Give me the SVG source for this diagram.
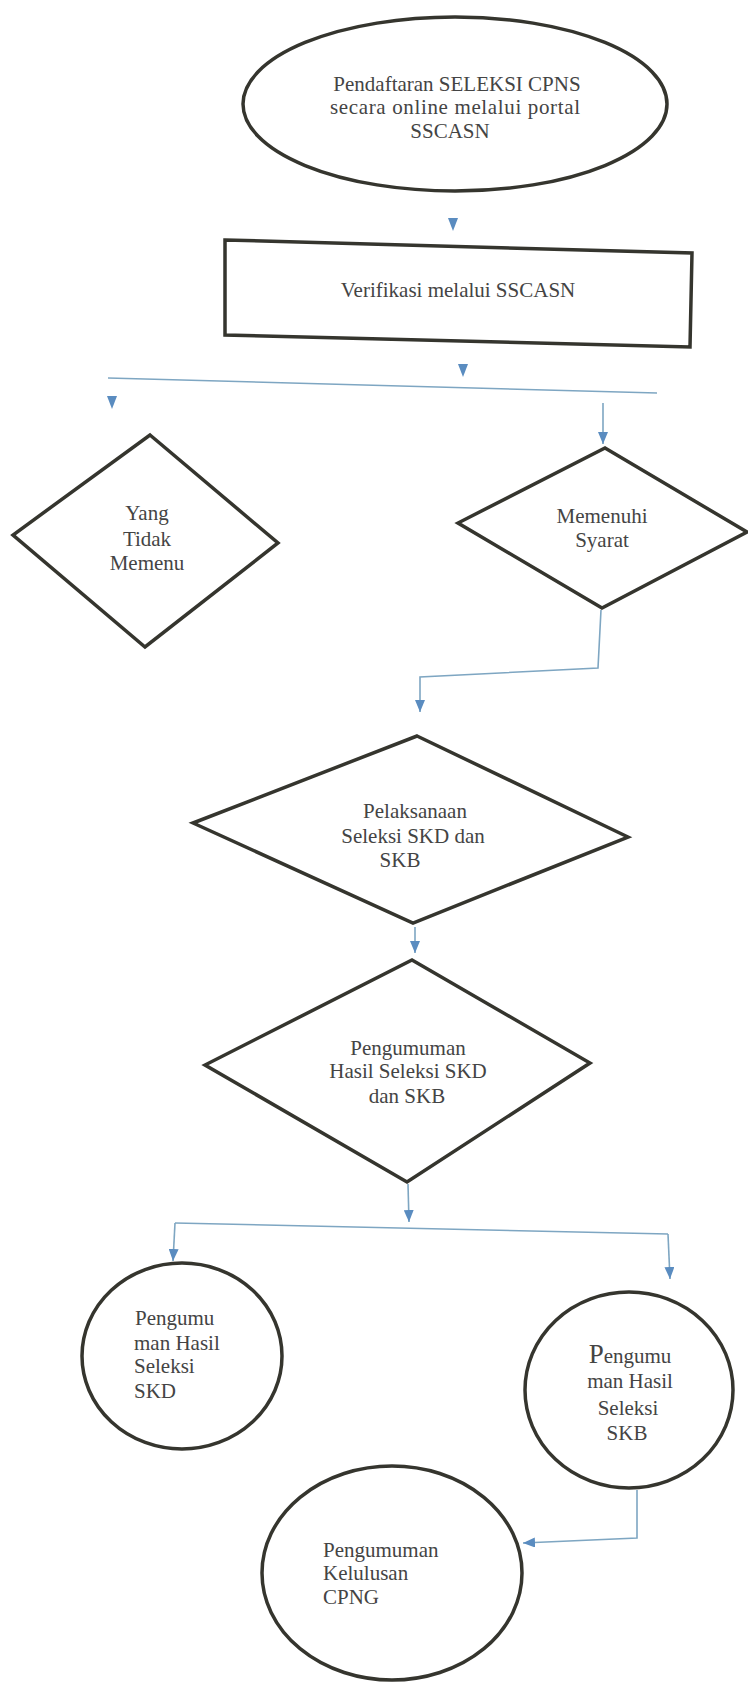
<svg xmlns="http://www.w3.org/2000/svg" xmlns:xlink="http://www.w3.org/1999/xlink" width="748" height="1683" viewBox="0 0 748 1683">
<style>
.shape{fill:#ffffff;stroke:#35352e;stroke-width:3.5;stroke-linejoin:miter}
.t{font-family:"Liberation Serif","Times New Roman",serif;font-size:21px;fill:#444444}
.c{text-anchor:middle}
.conn{fill:none;stroke:#7ea6c2;stroke-width:1.6}
.head{fill:#5a8cc0}
</style>
<defs>
<marker id="arr" viewBox="0 0 12 10" markerWidth="12" markerHeight="10" refX="12" refY="5" orient="auto" markerUnits="userSpaceOnUse">
<path d="M0,0 L12,5 L0,10 z" class="head"/>
</marker>
<path id="tri" d="M-5,0 L5,0 L0,13 z" class="head"/>
</defs>
<rect width="748" height="1683" fill="#ffffff"/>

<g id="connectors">
<use xlink:href="#tri" x="453" y="218"/>
<use xlink:href="#tri" x="463" y="364"/>
<line class="conn" x1="108" y1="378" x2="657" y2="393"/>
<use xlink:href="#tri" x="112" y="396"/>
<line class="conn" x1="603" y1="403" x2="603" y2="444" marker-end="url(#arr)"/>
<polyline class="conn" points="601,610 598,668 420,677 420,712" marker-end="url(#arr)"/>
<line class="conn" x1="415" y1="927" x2="415" y2="953" marker-end="url(#arr)"/>
<line class="conn" x1="408" y1="1184" x2="409" y2="1222" marker-end="url(#arr)"/>
<polyline class="conn" points="175,1223 668,1234"/>
<line class="conn" x1="175" y1="1223" x2="173" y2="1261" marker-end="url(#arr)"/>
<line class="conn" x1="668" y1="1234" x2="670" y2="1279" marker-end="url(#arr)"/>
<polyline class="conn" points="637,1490 637,1538 523,1543" marker-end="url(#arr)"/>
</g>

<g id="n1">
<ellipse class="shape" cx="455" cy="104" rx="212" ry="87"/>
<text class="t c" x="457" y="91">Pendaftaran SELEKSI  CPNS</text>
<text class="t c" x="455" y="114" textLength="250">secara online melalui portal</text>
<text class="t c" x="450" y="138">SSCASN</text>
</g>

<g id="n2">
<polygon class="shape" points="225,240 692,253 690,347 225,335"/>
<text class="t c" x="458" y="297">Verifikasi melalui SSCASN</text>
</g>

<g id="n3">
<polygon class="shape" points="150,435 278,543 145,647 13,535"/>
<text class="t c" x="147" y="520">Yang</text>
<text class="t c" x="147" y="546">Tidak</text>
<text class="t c" x="147" y="570">Memenu</text>
</g>

<g id="n4">
<polygon class="shape" points="605,448 747,532 602,608 458,523"/>
<text class="t c" x="602" y="523">Memenuhi</text>
<text class="t c" x="602" y="547">Syarat</text>
</g>

<g id="n5">
<polygon class="shape" points="417,736 628,837 413,923 193,823"/>
<text class="t c" x="415" y="818">Pelaksanaan</text>
<text class="t c" x="413" y="843">Seleksi SKD dan</text>
<text class="t c" x="400" y="867">SKB</text>
</g>

<g id="n6">
<polygon class="shape" points="412,960 590,1063 407,1182 205,1065"/>
<text class="t c" x="408" y="1055">Pengumuman</text>
<text class="t c" x="408" y="1078">Hasil Seleksi SKD</text>
<text class="t c" x="407" y="1103">dan SKB</text>
</g>

<g id="n7">
<ellipse class="shape" cx="182" cy="1356" rx="100" ry="93"/>
<text class="t" x="135" y="1325">Pengumu</text>
<text class="t" x="134" y="1350">man Hasil</text>
<text class="t" x="134" y="1373">Seleksi</text>
<text class="t" x="134" y="1398">SKD</text>
</g>

<g id="n8">
<ellipse class="shape" cx="629" cy="1390" rx="104" ry="98"/>
<text class="t c" x="630" y="1363"><tspan font-size="27">P</tspan>engumu</text>
<text class="t c" x="630" y="1388">man Hasil</text>
<text class="t c" x="628" y="1415">Seleksi</text>
<text class="t c" x="627" y="1440">SKB</text>
</g>

<g id="n9">
<ellipse class="shape" cx="392" cy="1573" rx="130" ry="107"/>
<text class="t" x="323" y="1557">Pengumuman</text>
<text class="t" x="323" y="1580">Kelulusan</text>
<text class="t" x="323" y="1604">CPNG</text>
</g>
</svg>
